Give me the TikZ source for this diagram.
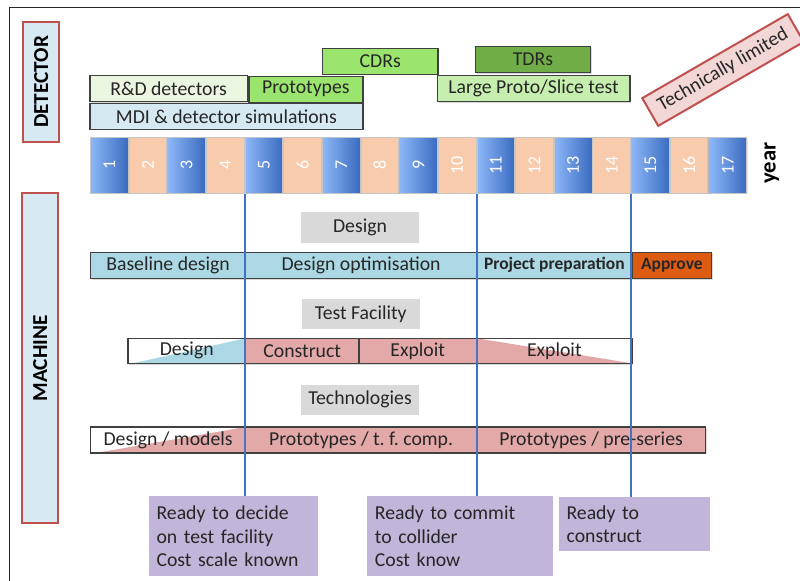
\documentclass[tikz,border=0pt]{standalone}
\usepackage{fontspec}
\usepackage{graphicx}
\setmainfont{Carlito}
\usetikzlibrary{shadows}

\newdimen\px
\px=0.75pt

\definecolor{sidefill}{HTML}{D7EAF3}
\definecolor{sidered}{HTML}{C0504D}
\definecolor{rndgreen}{HTML}{EBF6E1}
\definecolor{litegreen}{HTML}{9BE46E}
\definecolor{darkgreen}{HTML}{70AD47}
\definecolor{palegreen}{HTML}{C6EEAE}
\definecolor{mdiblue}{HTML}{D4E9F2}
\definecolor{yrlight}{HTML}{8DB7F7}
\definecolor{yrdark}{HTML}{3A6BC0}
\definecolor{peach}{HTML}{F8CBAD}
\definecolor{rowblue}{HTML}{ABD8E4}
\definecolor{approve}{HTML}{DE5C12}
\definecolor{rowpink}{HTML}{E3A8A8}
\definecolor{labelgray}{HTML}{D9D9D9}
\definecolor{milepurple}{HTML}{C1B5D9}
\definecolor{limitpink}{HTML}{F3D6D6}
\definecolor{mileline}{HTML}{4472C4}

\begin{document}
\begin{tikzpicture}[x=0.75pt, y=-0.75pt,
    txt/.style={font=\fontsize{14.8}{17.8}\selectfont, text=black!85},
    boldtxt/.style={font=\fontsize{13.1}{15}\selectfont\bfseries, text=black!85},
    bar/.style={txt, draw=black!75, line width=1.2\px, inner sep=0pt, minimum height=26\px, anchor=west,
        drop shadow={opacity=.3, shadow xshift=1.2\px, shadow yshift=-1.2\px}},
    side/.style={draw=sidered, line width=2\px, fill=sidefill, minimum width=36\px, inner sep=0pt,
        font=\fontsize{16}{18}\selectfont\bfseries},
    yearbox/.style={draw=gray!45, line width=1\px, minimum width=37.7\px, minimum height=56\px, anchor=north west,
        inner sep=0pt, text=white, font=\fontsize{13.5}{15}\selectfont,
        drop shadow={opacity=.2, shadow xshift=1\px, shadow yshift=-1\px}},
    oddyear/.style={yearbox, left color=yrlight, right color=yrdark},
    evenyear/.style={yearbox, fill=peach},
    graylabel/.style={txt, fill=labelgray, minimum width=118.6\px, minimum height=30.4\px, inner sep=0pt},
    rampup/.style={path picture={\fill[#1] ([xshift=5\px]path picture bounding box.south west)
        -- (path picture bounding box.north east) -- (path picture bounding box.south east) -- cycle;}},
    rampdown/.style={path picture={\fill[#1] (path picture bounding box.north west)
        -- (path picture bounding box.south east) -- (path picture bounding box.south west) -- cycle;}},
    milestone/.style={txt, fill=milepurple, anchor=north west, align=left, inner xsep=8\px, inner ysep=0pt},
    mile/.style={mileline, line width=2\px}]

  \useasboundingbox (0,0) rectangle (800,581);
  \draw[line width=1\px, black!85] (9,581) -- (9,8) -- (800,8);

  % side labels
  \node[side, minimum height=119.7\px] (det) at (41.3,81.8) {\rotatebox{90}{DETECTOR}};
  \node[side, minimum height=330\px] (mach) at (40.3,358.3) {\rotatebox{90}{MACHINE}};

  % detector plan
  \node[bar, fill=litegreen, minimum width=115.3\px] (cdr) at (322,61.2) {CDRs};
  \node[bar, fill=darkgreen, minimum width=115.3\px] (tdr) at (474.7,59.5) {TDRs};
  \node[bar, fill=rndgreen, minimum width=157.4\px] (rnd) at (89.3,88.8) {R\&D detectors};
  \node[bar, fill=litegreen, minimum width=114\px] (proto) at (248.3,89.2) {Prototypes};
  \node[bar, fill=palegreen, minimum width=192.6\px] (slice) at (436.7,88.5) {Large Proto/Slice test};
  \node[bar, fill=mdiblue, minimum width=273\px] (mdi) at (89.3,116.3) {MDI \& detector simulations};

  \node[txt, draw=sidered, line width=2\px, fill=limitpink, minimum width=168\px, minimum height=32\px,
      rotate=30] (limit) at (723,70) {Technically limited};

  % years
  \foreach \i in {1,3,...,17}
    \node[oddyear] (y\i) at ({90+(\i-1)*38.65},136.7) {\rotatebox{90}{\i}};
  \foreach \i in {2,4,...,16}
    \node[evenyear] (y\i) at ({90+(\i-1)*38.65},136.7) {\rotatebox{90}{\i}};
  \node[font=\fontsize{17}{20}\selectfont\bfseries] (yr) at (771.7,163) {\rotatebox{90}{year}};

  % machine plan
  \node[graylabel] (hdesign) at (360,227.5) {Design};
  \node[bar, fill=rowblue, minimum width=155\px] (base) at (90,265.3) {Baseline design};
  \node[bar, fill=rowblue, minimum width=231\px] (optim) at (245,265.3) {Design optimisation};
  \node[bar, boldtxt, fill=rowblue, minimum width=155.5\px] (prep) at (476,265.3) {Project preparation};
  \node[bar, boldtxt, fill=approve, minimum width=79.5\px] (appr) at (631.5,265.3) {Approve};

  \node[graylabel] (htf) at (360.8,314.2) {Test Facility};
  \node[bar, fill=white, rampup=rowblue, minimum width=117.7\px, minimum height=25\px] (tfdes) at (127.3,350.8) {Design};
  \node[bar, fill=rowpink, minimum width=113.3\px, minimum height=25\px] (constr) at (245,350.8) {Construct};
  \node[bar, fill=rowpink, minimum width=117.7\px, minimum height=25\px] (expl) at (358.3,350.8) {Exploit};
  \node[bar, fill=white, rampdown=rowpink, minimum width=155.5\px, minimum height=25\px] (explb) at (476,350.8) {Exploit};

  \node[graylabel] (htech) at (360,399.8) {Technologies};
  \node[bar, fill=white, rampup=rowpink, minimum width=155\px] (models) at (90,440) {Design / models};
  \node[bar, fill=rowpink, minimum width=231\px] (tfcomp) at (245,440) {Prototypes / t.\ f.\ comp.};
  \node[bar, fill=rowpink, minimum width=229\px] (preser) at (476,440) {Prototypes / pre-series};

  % milestones
  \node[milestone, text width=153\px, minimum height=80\px] (r1) at (148.3,496)
      {Ready to decide\\on test facility\\Cost scale known};
  \node[milestone, text width=169.6\px, minimum height=80\px] (r2) at (366.7,496)
      {Ready to commit\\to collider\\Cost know};
  \node[milestone, text width=135\px, minimum height=54.3\px] (r3) at (558.3,496.7)
      {Ready to\\construct};

  \draw[mile] (y5.south west) -- (y5.south west |- r1.north);
  \draw[mile] (y11.south west) -- (y11.south west |- r2.north);
  \draw[mile] (y15.south west) -- (y15.south west |- r3.north);

\end{tikzpicture}
\end{document}
